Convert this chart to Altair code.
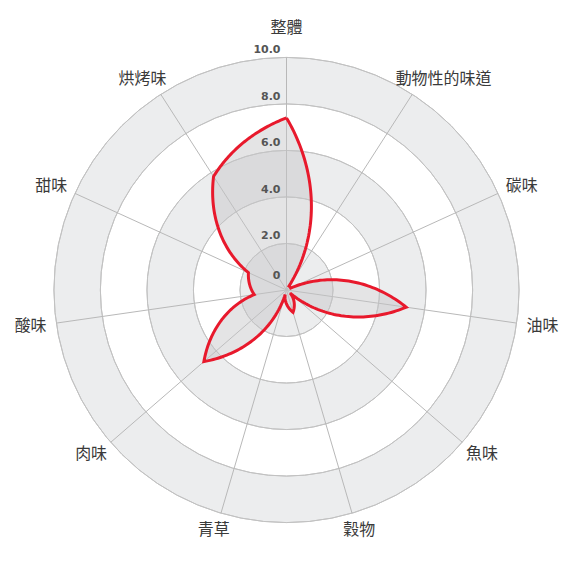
import math
import altair as alt
import pandas as pd

categories = ["整體", "動物性的味道", "碳味", "油味", "魚味", "穀物", "青草", "肉味", "酸味", "甜味", "烘烤味"]
values = [7.4, 0.2, 0.2, 5.2, 0.2, 1.0, 0.2, 4.7, 1.4, 1.8, 5.8]
ring_values = [0, 2, 4, 6, 8, 10]
ring_labels = ["0", "2.0", "4.0", "6.0", "8.0", "10.0"]
band_lo = [0, 4, 8]
band_hi = [2, 6, 10]

N = len(categories)
R = 233
W = 2 * R
PX = R / 10.0  # pixels per data unit

df = pd.DataFrame({"cat": categories, "v": values, "i": list(range(N))})
rings_df = pd.DataFrame({"r": ring_values, "label": ring_labels})
bands_df = pd.DataFrame({"lo": band_lo, "hi": band_hi})

xs = alt.Scale(domain=[-10, 10], nice=False, zero=False)
ys = alt.Scale(domain=[-10, 10], nice=False, zero=False)
rs = alt.Scale(type="linear", domain=[0, 10], range=[0, R], zero=True)

ANG = f"datum.i * 2 * PI / {N}"

bands = alt.Chart(bands_df).mark_arc(fill="#ecedee", strokeWidth=0).encode(
    theta=alt.value(0), theta2=alt.value(2 * math.pi),
    radius=alt.Radius("hi:Q", scale=rs), radius2="lo:Q",
)

rings = alt.Chart(rings_df).transform_filter("datum.r > 0").mark_arc(
    fill="transparent", stroke="#c2c2c2", strokeWidth=1
).encode(
    theta=alt.value(0), theta2=alt.value(2 * math.pi),
    radius=alt.Radius("r:Q", scale=rs), radius2="r:Q",
)

spokes = alt.Chart(df).transform_calculate(
    a=ANG
).transform_calculate(
    x0="0", y0="0", x1="10 * sin(datum.a)", y1="10 * cos(datum.a)"
).mark_rule(stroke="#b8b8b8", strokeWidth=1).encode(
    x=alt.X("x0:Q", scale=xs, axis=None), y=alt.Y("y0:Q", scale=ys, axis=None),
    x2="x1:Q", y2="y1:Q",
)

line = alt.Chart(df).transform_window(
    vn="lead(v)", vf="first_value(v)", sort=[alt.SortField("i")], frame=[None, None]
).transform_calculate(
    vn2="isValid(datum.vn) ? datum.vn : datum.vf",
    t="sequence(0, 1.0001, 0.02)",
).transform_flatten(["t"]).transform_calculate(
    a=f"(datum.i + datum.t) * 2 * PI / {N}",
    rr="datum.v + (datum.vn2 - datum.v) * datum.t",
    ord="datum.i + datum.t",
).transform_calculate(
    px="datum.rr * sin(datum.a)", py="datum.rr * cos(datum.a)"
).mark_line(
    stroke="#e8192c", strokeWidth=3, fill="#c5c6c8", fillOpacity=0.47, strokeJoin="miter"
).encode(
    x=alt.X("px:Q", scale=xs, axis=None), y=alt.Y("py:Q", scale=ys, axis=None),
    order=alt.Order("ord:Q"),
)

ticks = alt.Chart(rings_df).transform_calculate(
    z="0", yl="datum.r == 0 ? 0.3 : datum.r"
).mark_text(
    align="right", baseline="bottom", dx=-6, dy=-2, font="DejaVu Sans", fontWeight="bold",
    fontSize=11, fill="#555555",
).encode(
    x=alt.X("z:Q", scale=xs, axis=None), y=alt.Y("yl:Q", scale=ys, axis=None), text="label:N",
)

FS = 16
labels = alt.Chart(df).transform_calculate(a=ANG).transform_calculate(
    s="sin(datum.a)", c="cos(datum.a)", n="length(datum.cat)"
).transform_calculate(
    rl="abs(datum.s) < 0.1 && datum.c > 0 ? 254 : 243"
).transform_calculate(
    lx=f"datum.s * (datum.rl + datum.n * {FS / 2}) / {PX}",
    ly=f"datum.c * (datum.rl + {FS / 2}) / {PX}",
).mark_text(
    align="center", baseline="middle", font="Noto Sans CJK TC", fontSize=FS, fill="#3a3a3a",
).encode(
    x=alt.X("lx:Q", scale=xs, axis=None), y=alt.Y("ly:Q", scale=ys, axis=None), text="cat:N",
)

chart = alt.layer(bands, rings, spokes, line, ticks, labels).properties(
    width=W, height=W,
    autosize=alt.AutoSizeParams(type="none"),
    padding={"left": 46, "top": 49, "right": 48, "bottom": 44},
).configure_view(stroke=None)

chart.save("out.html", embed_options={"renderer": "svg", "actions": False})
